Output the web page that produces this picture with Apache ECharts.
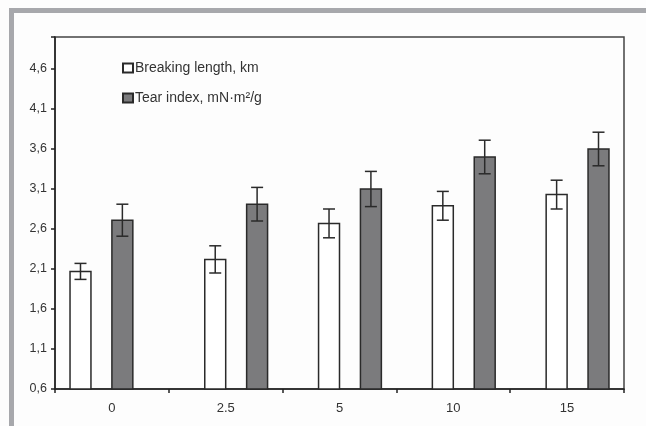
<!DOCTYPE html>
<html>
<head>
<meta charset="utf-8">
<script src="https://cdn.jsdelivr.net/npm/echarts@6/dist/echarts.min.js"></script>
<style>
html,body{margin:0;padding:0;background:#fdfdfd;}
#chart{width:646px;height:426px;}
</style>
</head>
<body>
<div id="chart"></div>
<script>
const categories = ['0', '2.5', '5', '10', '15'];
const breakingLength = [2.07, 2.22, 2.67, 2.89, 3.03];
const breakingErr = [0.10, 0.17, 0.18, 0.18, 0.18];
const tearIndex = [2.71, 2.91, 3.10, 3.50, 3.60];
const tearErr = [0.20, 0.21, 0.22, 0.21, 0.21];
const seriesNames = ['Breaking length, km', 'Tear index, mN·m²/g'];
const yTicks = { min: 0.6, max: 5.0, step: 0.5 };

const chart = echarts.init(document.getElementById('chart'), null, { renderer: 'canvas' });
const FONT = 'Liberation Sans, Arial, sans-serif';

function makeRender(slot, fill) {
  return function (params, api) {
    const idx = api.value(0);
    const val = api.value(1);
    const err = api.value(2);
    const top = api.coord([idx, val]);
    const base = api.coord([idx, yTicks.min]);
    const band = api.size([1, 0])[0];
    const w = band * 0.184;
    const shift = idx === 0 ? -w : 0;
    const left = slot === 0 ? top[0] - w + shift : top[0] + w + shift;
    const cx = left + w / 2;
    const eTop = api.coord([idx, val + err])[1];
    const eBot = api.coord([idx, val - err])[1];
    const cap = 6;
    const lineStyle = { stroke: '#2a2a2a', lineWidth: 1.5 };
    return {
      type: 'group',
      children: [
        { type: 'rect', shape: { x: left, y: top[1], width: w, height: base[1] - top[1] },
          style: { fill: fill, stroke: '#2a2a2a', lineWidth: 1.5 } },
        { type: 'line', shape: { x1: cx, y1: eTop, x2: cx, y2: eBot }, style: lineStyle },
        { type: 'line', shape: { x1: cx - cap, y1: eTop, x2: cx + cap, y2: eTop }, style: lineStyle },
        { type: 'line', shape: { x1: cx - cap, y1: eBot, x2: cx + cap, y2: eBot }, style: lineStyle }
      ]
    };
  };
}

const option = {
  backgroundColor: '#fdfdfd',
  animation: false,
  textStyle: { fontFamily: FONT },
  graphic: [
    { type: 'rect', shape: { x: 9, y: 8, width: 637, height: 5 }, style: { fill: '#a7a8ac' }, z: 100 },
    { type: 'rect', shape: { x: 9, y: 8, width: 5, height: 418 }, style: { fill: '#a7a8ac' }, z: 100 }
  ],
  grid: { left: 55, top: 37, right: 22, bottom: 37, show: true, borderColor: '#444', borderWidth: 1.5, backgroundColor: 'transparent' },
  legend: {
    orient: 'vertical', left: 122, top: 61, padding: 0, itemWidth: 10, itemHeight: 9, itemGap: 16,
    icon: 'rect',
    textStyle: { fontFamily: FONT, fontSize: 14, color: '#333', padding: [0, 0, 0, -3] },
    data: seriesNames
  },
  xAxis: {
    type: 'category', data: categories,
    axisLine: { lineStyle: { color: '#222', width: 1.5 } },
    axisTick: { show: true, inside: false, length: 4, lineStyle: { color: '#222', width: 1.5 } },
    axisLabel: { fontFamily: FONT, fontSize: 13, color: '#333', margin: 13 },
    splitLine: { show: false }
  },
  yAxis: {
    type: 'value', min: yTicks.min, max: yTicks.max, interval: yTicks.step,
    axisLine: { show: true, lineStyle: { color: '#222', width: 1.5 } },
    axisTick: { show: true, length: 4, lineStyle: { color: '#222', width: 1.5 } },
    axisLabel: { fontFamily: FONT, fontSize: 12.5, color: '#333', margin: 8,
      formatter: v => (v > 4.65 ? '' : v.toFixed(1).replace('.', ',')) },
    splitLine: { show: false }
  },
  series: [
    { name: seriesNames[0], type: 'custom', renderItem: makeRender(0, '#ffffff'),
      itemStyle: { color: '#ffffff', borderColor: '#2a2a2a', borderWidth: 1.5 },
      encode: { x: 0, y: 1 },
      data: categories.map((c, i) => [i, breakingLength[i], breakingErr[i]]) },
    { name: seriesNames[1], type: 'custom', renderItem: makeRender(1, '#7b7b7d'),
      itemStyle: { color: '#7b7b7d', borderColor: '#2a2a2a', borderWidth: 1.5 },
      encode: { x: 0, y: 1 },
      data: categories.map((c, i) => [i, tearIndex[i], tearErr[i]]) }
  ]
};
chart.setOption(option);
</script>
</body>
</html>
